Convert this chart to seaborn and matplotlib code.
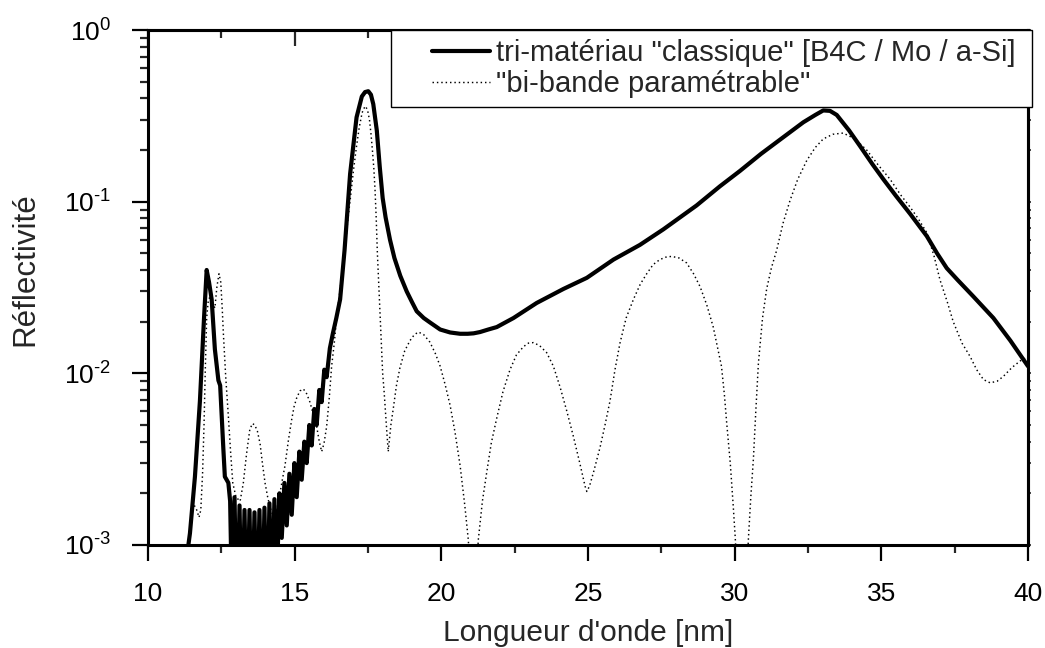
import numpy as np
import pandas as pd
import matplotlib
matplotlib.use("Agg")
import matplotlib.pyplot as plt
from matplotlib.legend_handler import HandlerLine2D
from matplotlib.ticker import LogLocator, FixedLocator, FixedFormatter, NullFormatter
import seaborn as sns

# ---------------- data ----------------
tri_wavelength = [
    11.30, 11.43, 11.60, 11.77, 11.91, 12.00, 12.08, 12.17, 12.28, 12.40, 12.46,
    12.57, 12.62, 12.68, 12.74, 12.80, 12.86,
    12.95, 13.03, 13.12, 13.20, 13.29, 13.37, 13.46, 13.54, 13.63, 13.71, 13.80,
    13.88, 13.97, 14.05, 14.14, 14.22, 14.31, 14.39, 14.48, 14.56, 14.65, 14.73,
    14.82, 14.90, 14.99, 15.07, 15.16, 15.24, 15.33, 15.41, 15.50, 15.58, 15.67,
    15.75, 15.84, 15.92, 16.01, 16.09,
    16.20, 16.30, 16.42, 16.55, 16.70, 16.89, 17.11, 17.29, 17.40, 17.51, 17.60,
    17.68, 17.80, 17.90, 18.00, 18.10, 18.25, 18.40, 18.60, 18.82, 19.00, 19.16,
    19.40, 19.61, 19.96, 20.30, 20.64, 20.90, 21.10, 21.32, 21.60, 21.89, 22.46,
    23.25, 24.16, 24.96, 25.87, 26.77, 27.57, 28.70, 29.50, 30.18, 30.90, 31.55,
    32.34, 32.75, 33.02, 33.25, 33.48, 33.90, 34.28, 34.70, 35.07, 35.50, 35.98,
    36.55, 36.90, 37.23, 37.60, 38.14, 38.82, 39.40, 40.00,
]
tri_reflectivity = [
    8.0e-4, 1.17e-3, 2.5e-3, 6.9e-3, 0.021, 0.040, 0.034, 0.027, 0.0138, 0.0091, 0.0085,
    0.0036, 0.0025, 0.0024, 0.0023, 0.0018, 5.0e-4,
    1.9e-3, 3.0e-4, 1.7e-3, 3.0e-4, 1.6e-3, 3.0e-4, 1.6e-3, 3.0e-4, 1.55e-3, 3.0e-4, 1.6e-3,
    3.0e-4, 1.65e-3, 3.0e-4, 1.75e-3, 4.0e-4, 1.85e-3, 6.0e-4, 2.0e-3, 1.1e-3, 2.3e-3, 1.3e-3,
    2.6e-3, 1.5e-3, 3.0e-3, 1.9e-3, 3.5e-3, 2.4e-3, 4.0e-3, 3.0e-3, 5.0e-3, 3.8e-3, 6.2e-3,
    5.0e-3, 8.0e-3, 6.8e-3, 1.05e-2, 9.5e-3,
    0.014, 0.017, 0.021, 0.027, 0.052, 0.145, 0.31, 0.41, 0.435, 0.44, 0.42,
    0.37, 0.26, 0.16, 0.105, 0.081, 0.060, 0.047, 0.037, 0.030, 0.026, 0.023,
    0.021, 0.0198, 0.018, 0.0173, 0.0170, 0.0170, 0.0171, 0.0174, 0.0180, 0.0186, 0.021,
    0.0257, 0.031, 0.036, 0.046, 0.056, 0.069, 0.095, 0.123, 0.151, 0.19, 0.23,
    0.29, 0.32, 0.34, 0.338, 0.32, 0.26, 0.21, 0.165, 0.135, 0.108, 0.085,
    0.063, 0.050, 0.041, 0.035, 0.028, 0.021, 0.0155, 0.011,
]

bi_wavelength = [
    11.58, 11.66, 11.74, 11.80, 11.86, 11.91, 11.95, 12.00, 12.05, 12.11, 12.20,
    12.28, 12.35, 12.42, 12.48, 12.53, 12.57, 12.65, 12.74, 12.82, 12.89, 13.00,
    13.14, 13.25, 13.36, 13.47, 13.56, 13.64, 13.73, 13.82, 13.90, 13.99, 14.08,
    14.16, 14.25, 14.33, 14.42, 14.50, 14.58, 14.67, 14.78, 14.90, 14.98, 15.07,
    15.18, 15.30, 15.41, 15.52, 15.63, 15.75, 15.84, 15.92, 16.00, 16.09, 16.18,
    16.26, 16.35, 16.43, 16.52, 16.60, 16.70, 16.80, 16.90, 17.00, 17.10, 17.20,
    17.30, 17.40, 17.48, 17.55, 17.60, 17.65, 17.70, 17.74, 17.78, 17.82, 17.87,
    17.91, 17.96, 18.00, 18.05, 18.08, 18.14, 18.19, 18.28, 18.36, 18.47, 18.59,
    18.75, 18.93, 19.08, 19.22, 19.40, 19.61, 19.80, 19.96, 20.13, 20.30, 20.47,
    20.64, 20.80, 20.92, 21.00, 21.10, 21.18, 21.26, 21.40, 21.54, 21.70, 21.88,
    22.10, 22.34, 22.56, 22.80, 22.97, 23.14, 23.35, 23.59, 23.82, 24.05, 24.28,
    24.50, 24.72, 24.90, 24.96, 25.05, 25.20, 25.41, 25.58, 25.75, 25.92, 26.09,
    26.30, 26.55, 26.78, 27.00, 27.22, 27.45, 27.65, 27.85, 28.10, 28.36, 28.60,
    28.82, 29.05, 29.27, 29.42, 29.55, 29.65, 29.73, 29.85, 29.95, 30.02, 30.10,
    30.25, 30.40, 30.47, 30.55, 30.64, 30.72, 30.81, 30.95, 31.09, 31.25, 31.43,
    31.65, 31.89, 32.15, 32.46, 32.75, 33.02, 33.35, 33.70, 34.10, 34.50, 34.90,
    35.30, 35.65, 35.98, 36.25, 36.55, 36.80, 37.00, 37.25, 37.45, 37.75, 38.03,
    38.25, 38.48, 38.71, 38.95, 39.16, 39.45, 39.73, 40.00,
]
bi_reflectivity = [
    1.7e-3, 1.6e-3, 1.45e-3, 1.6e-3, 2.6e-3, 5.0e-3, 0.010, 0.021, 0.026, 0.028, 0.026,
    0.024, 0.032, 0.038, 0.034, 0.024, 0.017, 0.0095, 5.6e-3, 3.4e-3, 2.3e-3, 1.9e-3,
    1.8e-3, 2.3e-3, 3.4e-3, 4.7e-3, 5.1e-3, 5.0e-3, 4.6e-3, 3.9e-3, 3.0e-3, 2.3e-3, 1.9e-3,
    1.66e-3, 1.5e-3, 1.5e-3, 1.7e-3, 2.0e-3, 2.4e-3, 2.9e-3, 4.0e-3, 5.4e-3, 6.4e-3, 7.2e-3,
    7.9e-3, 8.1e-3, 7.6e-3, 6.8e-3, 5.8e-3, 4.9e-3, 4.0e-3, 3.5e-3, 3.9e-3, 4.9e-3, 7.2e-3,
    0.011, 0.015, 0.021, 0.028, 0.036, 0.050, 0.075, 0.105, 0.15, 0.205, 0.27,
    0.33, 0.36, 0.345, 0.30, 0.25, 0.20, 0.155, 0.117, 0.080, 0.050, 0.032,
    0.022, 0.014, 0.010, 7.8e-3, 6.5e-3, 4.6e-3, 3.5e-3, 5.0e-3, 6.2e-3, 8.5e-3, 0.0108,
    0.0135, 0.0155, 0.0168, 0.0174, 0.0168, 0.0152, 0.0130, 0.0110, 8.6e-3, 6.5e-3, 4.5e-3,
    2.9e-3, 1.7e-3, 1.07e-3, 6.0e-4, 2.0e-4, 6.0e-4, 1.07e-3, 1.8e-3, 2.6e-3, 3.9e-3, 5.4e-3,
    7.8e-3, 0.0105, 0.0128, 0.0143, 0.0150, 0.0151, 0.0145, 0.0132, 0.0110, 8.3e-3, 6.0e-3,
    4.3e-3, 3.0e-3, 2.2e-3, 2.05e-3, 2.2e-3, 2.7e-3, 3.7e-3, 5.0e-3, 6.9e-3, 0.0105, 0.0150,
    0.021, 0.027, 0.033, 0.038, 0.043, 0.046, 0.0475, 0.048, 0.047, 0.044, 0.038,
    0.032, 0.025, 0.0186, 0.014, 0.011, 7.5e-3, 5.1e-3, 3.0e-3, 1.7e-3, 1.1e-3, 6.0e-4,
    2.0e-4, 6.0e-4, 1.1e-3, 1.9e-3, 3.2e-3, 6.0e-3, 0.0115, 0.021, 0.031, 0.041, 0.052,
    0.075, 0.102, 0.135, 0.174, 0.207, 0.232, 0.247, 0.251, 0.232, 0.20, 0.163,
    0.135, 0.11, 0.093, 0.080, 0.066, 0.048, 0.035, 0.026, 0.020, 0.015, 0.0125,
    0.0105, 9.2e-3, 8.8e-3, 9.0e-3, 9.6e-3, 0.0108, 0.0118, 0.0125,
]

label_tri = 'tri-matériau "classique" [B4C / Mo / a-Si]'
label_bi = '"bi-bande paramétrable"'
x_label = "Longueur d'onde [nm]"
y_label = "Réflectivité"
x_ticks = [10, 15, 20, 25, 30, 35, 40]
y_ticks = [1e-3, 1e-2, 1e-1, 1e0]
y_tick_labels = [r"$10^{\text{-3}}$", r"$10^{\text{-2}}$", r"$10^{\text{-1}}$", r"$10^{0}$"]

# ---------------- style ----------------
sns.set_style("ticks")
plt.rcParams["font.family"] = ["Liberation Sans", "DejaVu Sans"]
plt.rcParams["axes.unicode_minus"] = False
plt.rcParams["mathtext.fontset"] = "custom"
plt.rcParams["mathtext.rm"] = "Liberation Sans"
plt.rcParams["mathtext.it"] = "Liberation Sans:italic"
plt.rcParams["mathtext.bf"] = "Liberation Sans:bold"
plt.rcParams["mathtext.default"] = "regular"

fig = plt.figure(figsize=(10.45, 6.48), dpi=100)
ax = fig.add_axes([148 / 1045, 1 - 545 / 648, (1028 - 148) / 1045, (545 - 30) / 648])

sns.lineplot(x=tri_wavelength, y=tri_reflectivity, ax=ax, color="black",
             linewidth=3.0, sort=False, estimator=None, label=label_tri + " ")
sns.lineplot(x=bi_wavelength, y=bi_reflectivity, ax=ax, color="black",
             linewidth=1.05, linestyle=(0, (1, 2)), sort=False, estimator=None,
             label=label_bi + " ")

ax.set_yscale("log")
ax.set_xlim(10, 40)
ax.set_ylim(1e-3, 1)

# ticks
ax.xaxis.set_major_locator(FixedLocator(x_ticks))
ax.xaxis.set_minor_locator(FixedLocator(np.arange(12.5, 40, 5)))
ax.yaxis.set_major_locator(FixedLocator(y_ticks))
ax.yaxis.set_major_formatter(FixedFormatter(y_tick_labels))
ax.yaxis.set_minor_locator(LogLocator(base=10, subs=np.arange(2, 10), numticks=20))
ax.yaxis.set_minor_formatter(NullFormatter())
ax.tick_params(axis="both", which="major", direction="out", length=11.5, width=1.6,
               labelsize=19, colors="black")
ax.tick_params(axis="both", which="minor", direction="out", length=5.8, width=1.6)
ax.tick_params(axis="x", which="major", pad=15)
ax.tick_params(axis="y", which="major", pad=15)

for s in ax.spines.values():
    s.set_linewidth(2.2)
    s.set_color("black")
    s.set_visible(True)

# mirrored ticks: top inward, right short outward
top = ax.secondary_xaxis("top")
top.xaxis.set_major_locator(FixedLocator(x_ticks))
top.xaxis.set_minor_locator(FixedLocator(np.arange(12.5, 40, 5)))
top.tick_params(which="major", direction="in", length=11.5, width=1.6, labeltop=False)
top.tick_params(which="minor", direction="in", length=5.8, width=1.6)
top.spines["top"].set_linewidth(2.2)

right = ax.secondary_yaxis("right")
right.yaxis.set_major_locator(FixedLocator(y_ticks))
right.yaxis.set_minor_locator(LogLocator(base=10, subs=np.arange(2, 10), numticks=20))
right.tick_params(which="both", direction="out", length=2, width=1.2,
                  labelright=False)
right.spines["right"].set_linewidth(2.2)

ax.set_xlabel(x_label, fontsize=21.5)
ax.set_ylabel(y_label, fontsize=22.5)
ax.xaxis.set_label_coords(0.5, -0.144)
ax.yaxis.set_label_coords(-0.1227, 0.536)


class ShiftedLine(HandlerLine2D):
    def __init__(self, frac=0.367, **kw):
        super().__init__(**kw)
        self.frac = frac

    def create_artists(self, legend, orig_handle, xdescent, ydescent, width,
                       height, fontsize, trans):
        arts = super().create_artists(legend, orig_handle, xdescent, ydescent,
                                      width, height, fontsize, trans)
        for a in arts:
            xd = np.asarray(a.get_xdata(), dtype=float)
            if xd.size >= 2:
                x0 = xd[0] + self.frac * (xd[-1] - xd[0])
                a.set_xdata(np.linspace(x0, xd[-1], xd.size))
        return arts


handles, labels = ax.get_legend_handles_labels()
leg = ax.legend(handles, labels, loc="upper right",
                bbox_to_anchor=(1032 / 1045, 1 - 30 / 648),
                bbox_transform=fig.transFigure, borderaxespad=0,
                fontsize=21, frameon=True, fancybox=False, shadow=False,
                framealpha=1, edgecolor="black", handlelength=3.1,
                handletextpad=0.2, borderpad=0.3, labelspacing=0.11,
                handler_map={h: ShiftedLine() for h in handles})
leg.get_frame().set_linewidth(1.0)

fig.savefig("out.png", dpi=100)
